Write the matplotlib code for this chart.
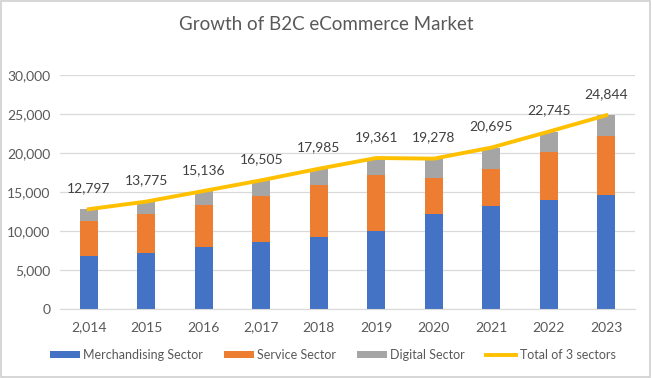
import matplotlib.pyplot as plt
import numpy as np
from matplotlib.patches import Rectangle

plt.rcParams['font.family'] = ['Lato', 'DejaVu Sans']

years = ['2,014', '2015', '2016', '2,017', '2018', '2019', '2020', '2021', '2022', '2023']
merch = [6750, 7180, 7950, 8550, 9270, 10000, 12220, 13250, 13970, 14650]
service = [4530, 4960, 5380, 5980, 6630, 7180, 4530, 4650, 6200, 7530]
digital = [1517, 1635, 1806, 1975, 2085, 2181, 2528, 2795, 2575, 2664]
total = [12797, 13775, 15136, 16505, 17985, 19361, 19278, 20695, 22745, 24844]

txt = '#595959'
x = np.arange(len(years))
merch = np.array(merch)
service = np.array(service)
digital = np.array(digital)

fig = plt.figure(figsize=(6.52, 3.78), dpi=100)
ax = fig.add_axes([0.092, 0.1825, 0.882, 0.619])

w = 0.31
b1 = ax.bar(x, merch, w, color='#4472C4', label='Merchandising Sector', zorder=2)
b2 = ax.bar(x, service, w, bottom=merch, color='#ED7D31', label='Service Sector', zorder=2)
b3 = ax.bar(x, digital, w, bottom=merch + service, color='#A5A5A5', label='Digital Sector', zorder=2)
ln, = ax.plot(x, total, color='#FFC000', lw=2.8, label='Total of 3 sectors', zorder=3)

for xi, t in zip(x, total):
    ax.annotate(f'{t:,}', (xi, t), xytext=(0, 11), textcoords='offset points',
                ha='center', va='bottom', fontsize=10, color='#404040')

ax.set_xlim(-0.5, len(years) - 0.5)
ax.set_ylim(0, 30000)
ax.set_yticks(range(0, 30001, 5000))
ax.set_yticklabels([f'{v:,}' for v in range(0, 30001, 5000)])
ax.set_xticks(x)
ax.set_xticklabels(years)
ax.tick_params(axis='both', length=0, colors=txt, labelsize=10)
ax.tick_params(axis='x', pad=9)
ax.tick_params(axis='y', pad=7)
ax.grid(axis='y', color='#D9D9D9', lw=0.9, zorder=0)
for s in ['top', 'right', 'left']:
    ax.spines[s].set_visible(False)
ax.spines['bottom'].set_color('#D9D9D9')

fig.text(0.5, 0.935, 'Growth of B2C eCommerce Market', ha='center', va='center',
         fontsize=13.5, color=txt)

leg = fig.legend([b1, b2, b3, ln],
                 ['Merchandising Sector', 'Service Sector', 'Digital Sector', 'Total of 3 sectors'],
                 loc='center', bbox_to_anchor=(0.51, 0.06), ncol=4, frameon=False,
                 fontsize=9, handlelength=2.4, handleheight=0.5, columnspacing=1.7,
                 handletextpad=0.25)
for t in leg.get_texts():
    t.set_color(txt)

fig.patches.append(Rectangle((0.002, 0.003), 0.995, 0.994, transform=fig.transFigure,
                             fill=False, edgecolor='#D0D0D0', lw=1.2))

fig.savefig('out.png', dpi=100, facecolor='white')
